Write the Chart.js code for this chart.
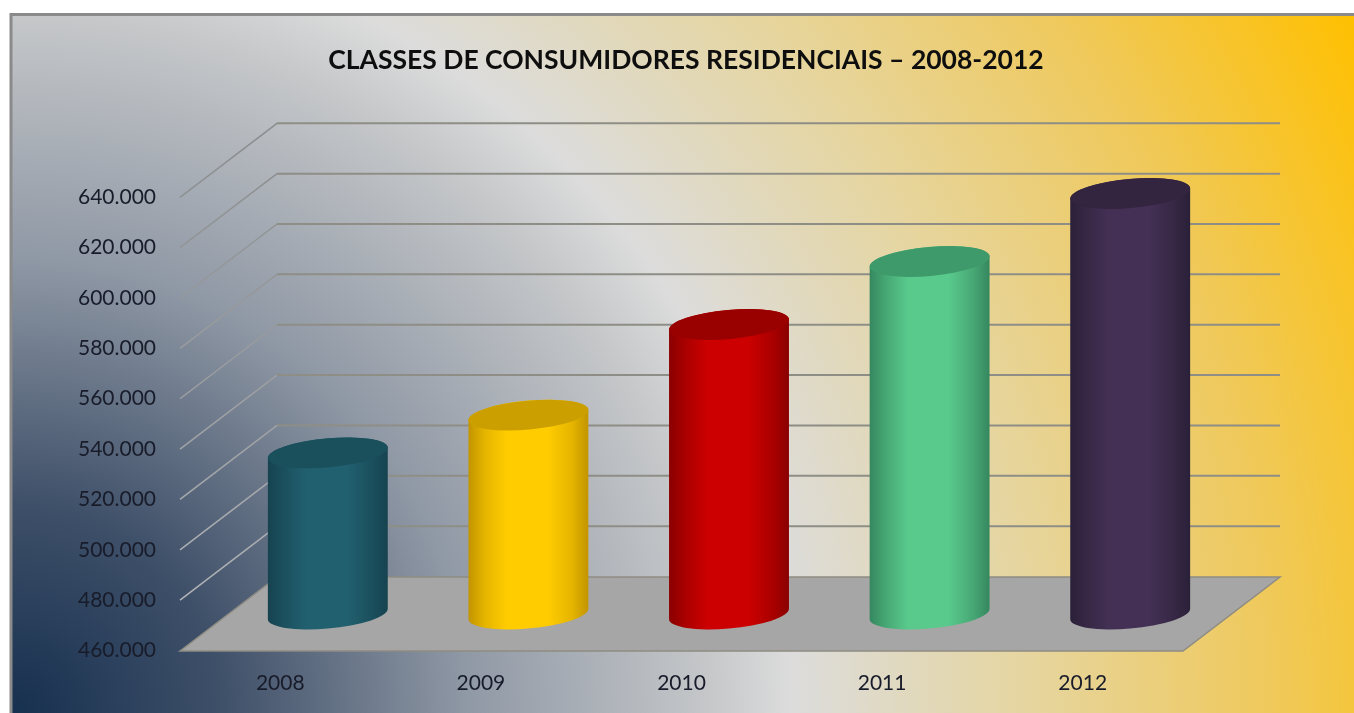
<!DOCTYPE html>
<html>
<head>
<meta charset="utf-8">
<style>html,body{margin:0;padding:0;background:#fff}canvas{display:block}</style>
<script src="https://cdn.jsdelivr.net/npm/chart.js@4"></script>
</head>
<body>
<canvas id="c" width="1354" height="713" style="width:1354px;height:713px"></canvas>
<script>
const categories = ['2008', '2009', '2010', '2011', '2012'];
const consumers = [524000, 539000, 575000, 600000, 627000];
const yMin = 460000, yMax = 640000, yStep = 20000;
const chartTitle = 'CLASSES DE CONSUMIDORES RESIDENCIAIS – 2008-2012';

const bodyColors = ['#21606F', '#FFCC00', '#CC0000', '#59C98C', '#433054'];
const midColors  = ['#1B505E', '#E5B500', '#AA0000', '#47A875', '#372845'];
const edgeColors = ['#16434F', '#C29400', '#8A0000', '#35875E', '#2A2038'];
const topColors  = ['#1A4F5C', '#CC9F00', '#990000', '#3E9A6B', '#33243F'];

const DX = 97, DY = -74;           // depth of the 3D box
const RY = 14.5, TILT = -5.2 * Math.PI / 180;

const backdrop = {
  id: 'backdrop',
  beforeDraw(chart) {
    const ctx = chart.ctx, W = chart.width, H = chart.height;
    ctx.save();
    ctx.fillStyle = '#fff';
    ctx.fillRect(0, 0, W, H);
    const g = ctx.createRadialGradient(12, 713, 0, 12, 713, 1513);
    g.addColorStop(0, '#16304F');
    g.addColorStop(0.14, '#3F5069');
    g.addColorStop(0.30, '#8F98A5');
    g.addColorStop(0.46, '#C5C7C9');
    g.addColorStop(0.515, '#DCDCDC');
    g.addColorStop(0.66, '#E5D6A4');
    g.addColorStop(0.83, '#EFC95C');
    g.addColorStop(1, '#FFC000');
    ctx.fillStyle = g;
    ctx.fillRect(11, 14, W - 11, H - 14);
    ctx.strokeStyle = '#8A8A8A';
    ctx.lineWidth = 3;
    ctx.beginPath();
    ctx.moveTo(11, H);
    ctx.lineTo(11, 14.5);
    ctx.lineTo(W, 14.5);
    ctx.stroke();

    const y = chart.scales.y, area = chart.chartArea;
    // floor
    const base = y.getPixelForValue(yMin);
    ctx.fillStyle = '#A6A6A6';
    ctx.beginPath();
    ctx.moveTo(area.left, base + 0.5);
    ctx.lineTo(area.left + DX, base + 0.5 + DY);
    ctx.lineTo(area.right + DX, base + 0.5 + DY);
    ctx.lineTo(area.right, base + 0.5);
    ctx.closePath();
    ctx.fill();
    ctx.strokeStyle = '#8E8C82';
    ctx.lineWidth = 1.5;
    ctx.stroke();
    // walls' grid lines
    const diag = ctx.createLinearGradient(0, area.top + DY, 0, area.bottom);
    diag.addColorStop(0, '#8A8C8E');
    diag.addColorStop(0.6, '#A0A2A4');
    diag.addColorStop(1, '#B6B9BD');
    y.ticks.forEach(t => {
      const py = y.getPixelForValue(t.value);
      if (t.value === yMin) return;
      ctx.strokeStyle = diag;
      ctx.lineWidth = 1.5;
      ctx.beginPath();
      ctx.moveTo(area.left, py);
      ctx.lineTo(area.left + DX, py + DY);
      ctx.stroke();
      ctx.strokeStyle = '#8E8E86';
      ctx.lineWidth = 2;
      ctx.beginPath();
      ctx.moveTo(area.left + DX, py + DY);
      ctx.lineTo(area.right + DX, py + DY);
      ctx.stroke();
    });
    ctx.restore();
  }
};

const cylinders = {
  id: 'cylinders',
  beforeDatasetDraw(chart, args) {
    const ctx = chart.ctx;
    args.meta.data.forEach((bar, i) => {
      const rx = bar.width / 2;
      const cx = bar.x + DX / 2 - 1;
      const yTop = bar.y + DY / 2 + 0.5;
      const yBot = bar.base + DY / 2 + 0.5;
      const t0 = Math.atan2(-RY * Math.sin(TILT), rx * Math.cos(TILT));
      const grad = ctx.createLinearGradient(cx - rx, 0, cx + rx, 0);
      grad.addColorStop(0, edgeColors[i]);
      grad.addColorStop(0.14, midColors[i]);
      grad.addColorStop(0.32, bodyColors[i]);
      grad.addColorStop(0.66, bodyColors[i]);
      grad.addColorStop(0.86, midColors[i]);
      grad.addColorStop(1, edgeColors[i]);
      ctx.save();
      ctx.fillStyle = grad;
      ctx.beginPath();
      ctx.ellipse(cx, yBot, rx, RY, TILT, t0, t0 + Math.PI, false);
      ctx.ellipse(cx, yTop, rx, RY, TILT, t0 + Math.PI, t0 + 2 * Math.PI, false);
      ctx.closePath();
      ctx.fill();
      ctx.fillStyle = topColors[i];
      ctx.beginPath();
      ctx.ellipse(cx, yTop, rx, RY, TILT, 0, 2 * Math.PI);
      ctx.fill();
      ctx.restore();
    });
    return false;
  }
};

new Chart(document.getElementById('c'), {
  type: 'bar',
  data: {
    labels: categories,
    datasets: [{
      label: 'Consumidores residenciais',
      data: consumers,
      base: yMin,
      backgroundColor: bodyColors,
      barPercentage: 0.6,
      categoryPercentage: 1
    }]
  },
  plugins: [backdrop, cylinders],
  options: {
    responsive: false,
    animation: false,
    layout: { padding: { left: 18, right: 0, top: 0, bottom: 0 } },
    plugins: {
      legend: { display: false },
      tooltip: { enabled: false },
      title: {
        display: true,
        text: chartTitle,
        color: '#0E0E0E',
        font: { family: 'Lato', size: 26.5, weight: 'bold' },
        padding: { top: 45, bottom: 120.5 }
      }
    },
    scales: {
      x: {
        grid: { display: false },
        border: { display: false },
        ticks: { color: '#181C2A', font: { family: 'Lato', size: 21 }, padding: 12, maxRotation: 0 },
        afterFit(s) { s.height = 62.5; }
      },
      y: {
        min: yMin,
        max: yMax,
        grid: { display: false },
        border: { display: false },
        ticks: {
          stepSize: yStep,
          color: '#181C2A',
          font: { family: 'Lato', size: 21 },
          padding: 16,
          callback: v => String(v).replace(/\B(?=(\d{3})+$)/g, '.')
        },
        afterFit(s) { s.width = 162; }
      },
      spacer: {
        position: 'right',
        grid: { display: false },
        border: { display: false },
        ticks: { display: false },
        afterFit(s) { s.width = 171; }
      }
    }
  }
});
</script>
</body>
</html>
